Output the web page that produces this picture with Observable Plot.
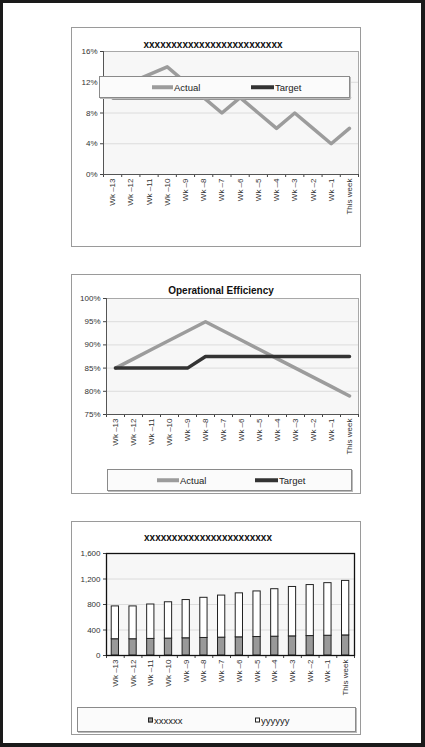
<!DOCTYPE html>
<html>
<head>
<meta charset="utf-8">
<script src="https://cdn.jsdelivr.net/npm/d3@7"></script>
<script src="https://cdn.jsdelivr.net/npm/@observablehq/plot@0.6"></script>
<style>
  html, body { margin: 0; padding: 0; background: #fff; }
  #page { position: relative; width: 425px; height: 747px; background: #1a1a1a; overflow: hidden;
          font-family: "Liberation Sans", Arial, sans-serif; color: #222; }
  #sheet { position: absolute; left: 3px; top: 3px; width: 418px; height: 740px; background: #fff; }
  .box { position: absolute; box-sizing: border-box; border: 1px solid #9a9a9a; background: #fff; }
  .chart { position: absolute; }
  .title { position: absolute; font-weight: bold; font-size: 10px; white-space: nowrap; transform: translate(-50%, -50%); color: #111; }
  .legend { position: absolute; box-sizing: border-box; border: 1px solid #8a8a8a; background: #fbfbfb;
            box-shadow: 1px 1px 0 #bbb; }
  .item { position: absolute; font-size: 9.5px; white-space: nowrap; transform: translateY(-50%); color: #222; }
  .sw { position: absolute; height: 3.5px; transform: translateY(-50%); }
  .sq { position: absolute; width: 5px; height: 5px; box-sizing: border-box; border: 1px solid #222; transform: translateY(-50%); }
</style>
</head>
<body>
<div id="page"><div id="sheet"></div></div>
<script>
// ---------- data ----------
const weeks = ["Wk \u201313","Wk \u201312","Wk \u201311","Wk \u201310","Wk \u20139","Wk \u20138","Wk \u20137",
               "Wk \u20136","Wk \u20135","Wk \u20134","Wk \u20133","Wk \u20132","Wk \u20131","This week"];

const chart1Title = "xxxxxxxxxxxxxxxxxxxxxxxxx";
const chart1Actual = [0.12, 0.12, 0.13, 0.14, 0.12, 0.10, 0.08, 0.10, 0.08, 0.06, 0.08, 0.06, 0.04, 0.06];
const chart1Target = [0.10, 0.10, 0.10, 0.10, 0.10, 0.10, 0.10, 0.10, 0.10, 0.10, 0.10, 0.10, 0.10, 0.10];
const chart1YTicks = [0, 0.04, 0.08, 0.12, 0.16];

const chart2Title = "Operational Efficiency";
const chart2Actual = [0.85, 0.87, 0.89, 0.91, 0.93, 0.95, 0.93, 0.91, 0.89, 0.87, 0.85, 0.83, 0.81, 0.79];
const chart2Target = [0.85, 0.85, 0.85, 0.85, 0.85, 0.875, 0.875, 0.875, 0.875, 0.875, 0.875, 0.875, 0.875, 0.875];
const chart2YTicks = [0.75, 0.80, 0.85, 0.90, 0.95, 1.00];

const chart3Title = "xxxxxxxxxxxxxxxxxxxxxxx";
const chart3SeriesNames = ["xxxxxx", "yyyyyy"];
const chart3X = [255, 255, 260, 265, 270, 275, 280, 285, 290, 295, 300, 305, 310, 315];
const chart3Y = [515, 515, 540, 570, 600, 630, 660, 690, 715, 745, 775, 800, 825, 855];
const chart3YTicks = [0, 400, 800, 1200, 1600];

const lineNames = ["Actual", "Target"];

// ---------- helpers ----------
const page = document.getElementById("page");
const idx = weeks.map((_, i) => i);
const bounds = weeks.map((_, i) => i - 0.5).concat([weeks.length - 0.5]);
const FONT = "'Liberation Sans', Arial, sans-serif";

function el(cls, css, text) {
  const d = document.createElement("div");
  d.className = cls;
  Object.assign(d.style, css);
  if (text != null) d.textContent = text;
  return d;
}
function px(v) { return v + "px"; }

function commonAxes(yTicks, yFmt, yMin) {
  return [
    Plot.gridY(yTicks.slice(1, -1), {stroke: "#dcdcdc", strokeOpacity: 1}),
    Plot.axisY(yTicks, {tickFormat: yFmt, tickSize: 3, tickPadding: 3, label: null, stroke: "#444", fill: "#333"}),
    Plot.axisX(bounds, {tickSize: 3, tickFormat: () => "", label: null, stroke: "#444"}),
    Plot.axisX(idx, {tickSize: 0, tickPadding: 4, tickRotate: -90, tickFormat: i => weeks[i], label: null, fill: "#333"})
  ];
}

function addChart(svg, left, top) {
  const w = el("chart", {left: px(left), top: px(top)});
  w.appendChild(svg);
  page.appendChild(w);
}

function lineLegend(left, top, width, height, items) {
  const lg = el("legend", {left: px(left), top: px(top), width: px(width), height: px(height)});
  const cy = height / 2 - 1;
  items.forEach(it => {
    lg.appendChild(el("sw", {left: px(it.sx - left), top: px(cy), width: px(it.sw), background: it.color}));
    lg.appendChild(el("item", {left: px(it.tx - left), top: px(cy)}, it.label));
  });
  page.appendChild(lg);
}

// ---------- chart 1 ----------
page.appendChild(el("box", {left: "71px", top: "27px", width: "290px", height: "220px"}));
const data1 = idx.map(i => ({i, actual: chart1Actual[i], target: chart1Target[i]}));
addChart(Plot.plot({
  width: 289, height: 219, marginLeft: 32, marginRight: 2, marginTop: 24, marginBottom: 72,
  style: {fontFamily: FONT, fontSize: "8px", background: "transparent", overflow: "visible"},
  x: {type: "linear", domain: [-0.5, 13.5]},
  y: {domain: [0, 0.16]},
  marks: [
    Plot.frame({fill: "#f7f7f7", stroke: "#a8a8a8"}),
    ...commonAxes(chart1YTicks, d3.format(".0%")),
    Plot.line(data1, {x: "i", y: "target", stroke: "#333", strokeWidth: 3.5}),
    Plot.line(data1, {x: "i", y: "actual", stroke: "#9c9c9c", strokeWidth: 3.5}),
    Plot.ruleX([-0.5], {stroke: "#555"}),
    Plot.ruleY([0], {stroke: "#555"})
  ]
}), 71, 27);
page.appendChild(el("title", {left: "213px", top: "44px"}, chart1Title));
lineLegend(99, 76, 251, 22, [
  {sx: 151, sw: 21, tx: 173, color: "#9c9c9c", label: lineNames[0]},
  {sx: 250, sw: 23, tx: 274, color: "#333", label: lineNames[1]}
]);

// ---------- chart 2 ----------
page.appendChild(el("box", {left: "71px", top: "274px", width: "290px", height: "220px"}));
const data2 = idx.map(i => ({i, actual: chart2Actual[i], target: chart2Target[i]}));
addChart(Plot.plot({
  width: 289, height: 219, marginLeft: 35, marginRight: 2, marginTop: 24, marginBottom: 79,
  style: {fontFamily: FONT, fontSize: "8px", background: "transparent", overflow: "visible"},
  x: {type: "linear", domain: [-0.5, 13.5]},
  y: {domain: [0.75, 1.0]},
  marks: [
    Plot.frame({fill: "#f7f7f7", stroke: "#a8a8a8"}),
    ...commonAxes(chart2YTicks, d3.format(".0%")),
    Plot.line(data2, {x: "i", y: "actual", stroke: "#9c9c9c", strokeWidth: 3.5}),
    Plot.line(data2, {x: "i", y: "target", stroke: "#333", strokeWidth: 3.5}),
    Plot.ruleX([-0.5], {stroke: "#555"}),
    Plot.ruleY([0.75], {stroke: "#555"})
  ]
}), 71, 274);
page.appendChild(el("title", {left: "221px", top: "290px"}, chart2Title));
lineLegend(107, 469, 245, 22, [
  {sx: 156, sw: 22, tx: 179, color: "#9c9c9c", label: lineNames[0]},
  {sx: 254, sw: 23, tx: 278, color: "#333", label: lineNames[1]}
]);

// ---------- chart 3 ----------
page.appendChild(el("box", {left: "71px", top: "521px", width: "290px", height: "214px"}));
const data3 = idx.map(i => ({i, a: chart3X[i], b: chart3Y[i]}));
addChart(Plot.plot({
  width: 289, height: 213, marginLeft: 35, marginRight: 6, marginTop: 32, marginBottom: 79,
  style: {fontFamily: FONT, fontSize: "8px", background: "transparent", overflow: "visible"},
  x: {type: "linear", domain: [-0.5, 13.5]},
  y: {domain: [0, 1600]},
  marks: [
    Plot.frame({fill: "#f7f7f7", stroke: "none"}),
    ...commonAxes(chart3YTicks, d3.format(",")),
    Plot.rect(data3, {x1: d => d.i - 0.205, x2: d => d.i + 0.205, y1: 0, y2: "a", fill: "#999", stroke: "#222", strokeWidth: 1}),
    Plot.rect(data3, {x1: d => d.i - 0.205, x2: d => d.i + 0.205, y1: "a", y2: d => d.a + d.b, fill: "#fff", stroke: "#222", strokeWidth: 1}),
    Plot.frame({stroke: "#111", strokeWidth: 1.3})
  ]
}), 71, 521);
page.appendChild(el("title", {left: "208px", top: "537px"}, chart3Title));
(function () {
  const left = 77, top = 707, width = 279, height = 25;
  const lg = el("legend", {left: px(left), top: px(top), width: px(width), height: px(height)});
  const cy = height / 2 - 1;
  lg.appendChild(el("sq", {left: px(147 - left), top: px(cy), background: "#999"}));
  lg.appendChild(el("item", {left: px(153 - left), top: px(cy)}, chart3SeriesNames[0]));
  lg.appendChild(el("sq", {left: px(254 - left), top: px(cy), background: "#fff"}));
  lg.appendChild(el("item", {left: px(260 - left), top: px(cy)}, chart3SeriesNames[1]));
  page.appendChild(lg);
})();
</script>
</body>
</html>
